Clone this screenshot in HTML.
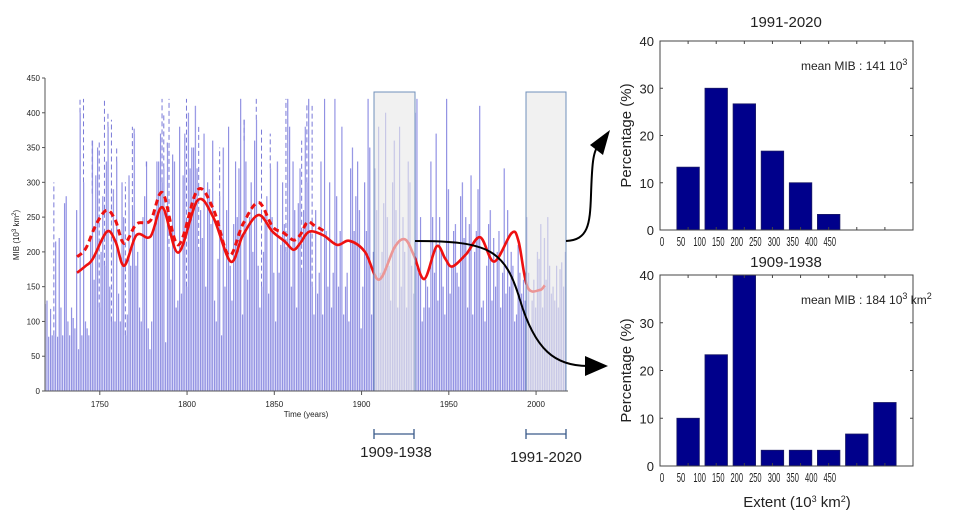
<!DOCTYPE html>
<html><head><meta charset="utf-8"><style>
html,body{margin:0;padding:0;background:#fff;}
svg{display:block;font-family:"Liberation Sans",Arial,sans-serif;}
</style></head><body>
<svg id="chart" width="959" height="528" viewBox="0 0 959 528" xmlns="http://www.w3.org/2000/svg">
<g id="left"></g>
<g id="right"></g>
</svg>
<script>
// ---------- data ----------
const startYear = 1719;
const mibValues = [
125,130,78,118,80,80,215,78,220,120,
80,270,280,100,80,120,105,90,260,60,
400,80,300,100,90,80,220,360,160,310,
350,120,200,280,180,330,380,150,100,290,
100,330,140,100,300,250,80,110,310,180,
260,370,180,200,120,100,250,280,330,90,
60,100,230,260,330,330,370,300,320,70,
350,200,160,340,330,120,130,380,140,310,
370,150,400,320,350,350,410,320,200,260,
220,370,150,300,290,240,360,130,100,190,
280,80,350,150,260,380,180,130,240,330,
250,320,420,110,390,330,160,250,300,200,
360,390,180,120,150,200,260,280,140,320,
250,170,100,330,170,210,300,240,200,420,
380,150,330,260,120,270,320,170,260,380,
300,420,230,150,110,260,140,170,330,110,
420,230,150,300,120,170,420,280,150,230,
380,110,150,170,100,320,350,230,280,330,
260,90,150,300,230,420,350,110,200,320,
260,380,170,200,270,400,250,180,130,300,
360,260,120,380,150,250,200,120,330,300,
180,140,400,420,170,250,100,120,160,150,
120,330,250,170,370,130,250,200,150,110,
420,290,140,180,230,240,170,150,280,300,
220,250,120,240,310,110,200,230,290,410,
120,130,100,180,240,260,130,220,150,200,
230,120,170,320,140,260,150,200,180,100,
110,210,170,140,160,130,250,170,90,130,
160,120,200,190,240,120,220,160,250,180,
140,150,130,180,120,175,185,150,200
];
const dashYears = [1724,1739,1741,1746,1750,1753,1755,1757,1760,1765,1769,1770,1777,1786,1787,1789,1790,1800,1805,1807,1819,1831,1833,1840,1843,1848,1857,1861,1866,1869,1872];
const dashTops  = [300,420,420,280,360,420,400,390,350,300,380,380,320,420,400,360,420,420,410,380,350,420,360,420,380,370,420,330,360,415,410];
const smoothYears = [1737,1742,1746,1754,1759,1764,1771,1779,1786,1795,1806,1815,1825,1832,1841,1849,1856,1861,1865,1870,1878,1886,1893,1902,1910,1919,1925,1930,1936,1943,1948,1952,1960,1968,1976,1986,1990,1995,2002,2005];
const smoothValues = [170,180,190,229,215,180,224,222,264,199,274,250,186,224,253,229,215,203,213,229,224,210,216,200,160,207,218,195,161,208,190,179,197,221,186,227,215,150,145,152];
const dashSmoothYears = [1737,1742,1748,1754,1759,1764,1771,1779,1786,1795,1806,1815,1824,1832,1841,1849,1855,1861,1865,1869,1873,1880];
const dashSmoothValues = [193,205,240,260,245,212,240,245,285,210,289,262,195,240,271,236,228,217,225,243,238,228];
const histBins = [50,100,150,200,250,300,350,400,450];
const hist1991 = [13.3,30,26.7,16.7,10,3.3,0,0];
const hist1909 = [10,23.3,40,3.3,3.3,3.3,6.7,13.3];
const yTicksLeft = [0,50,100,150,200,250,300,350,400,450];
const xTicksLeft = [1750,1800,1850,1900,1950,2000];
const yTicksHist = [0,10,20,30,40];
const xTickLabelsHist = ["0","50","100","150","200","250","300","350","400","450"];

// ---------- helpers ----------
const NS = "http://www.w3.org/2000/svg";
function mk(tag, attrs, parent, txt){
  const e = document.createElementNS(NS, tag);
  for (const k in attrs) e.setAttribute(k, attrs[k]);
  if (txt !== undefined) e.textContent = txt;
  parent.appendChild(e); return e;
}
const L = document.getElementById('left');
const R = document.getElementById('right');
const x0 = 45, x1 = 568, yBot = 391, yTop = 78;
const yr0 = 1718.6, yr1 = 2018.3;
const xs = y => x0 + (y - yr0) * (x1 - x0) / (yr1 - yr0);
const ys = v => yBot - v * (yBot - yTop) / 450;

// bars
const barsG = mk('g', {}, L);


mibValues.forEach((v, i) => {
  const yr = startYear + i;
  const bx = xs(yr - 0.5), w = xs(yr + 0.5) - bx;
  const r = mk('rect', {x: bx.toFixed(2), y: ys(v).toFixed(2), width: (w - 0.5).toFixed(2), height: (yBot - ys(v)).toFixed(2), fill: '#c6c6f7'}, barsG);
  
  
  const l = mk('line', {x1: (bx + 0.3).toFixed(2), x2: (bx + 0.3).toFixed(2), y1: yBot, y2: ys(v).toFixed(2), stroke: '#7a7ad8', 'stroke-width': 0.7}, barsG);
  
  
});
dashYears.forEach((yr, i) => {
  const v = mibValues[yr - startYear];
  const bx = xs(yr - 0.5) + 0.3;
  const d = mk('line', {x1: bx, x2: bx, y1: ys(v), y2: ys(dashTops[i]), stroke: '#7a7ad8', 'stroke-width': 1, 'stroke-dasharray': '5,3'}, barsG);
  
  
});

// smooth curves
function smoothPath(xsArr, ysArr){
  const p = xsArr.map((x, i) => [xs(x), ys(ysArr[i])]);
  let d = 'M' + p[0][0].toFixed(1) + ',' + p[0][1].toFixed(1);
  for (let i = 0; i < p.length - 1; i++){
    const a = p[Math.max(0, i - 1)], b = p[i], c = p[i + 1], e = p[Math.min(p.length - 1, i + 2)];
    const c1 = [b[0] + (c[0] - a[0]) / 6, b[1] + (c[1] - a[1]) / 6];
    const c2 = [c[0] - (e[0] - b[0]) / 6, c[1] - (e[1] - b[1]) / 6];
    d += 'C' + c1.map(n => n.toFixed(1)).join(',') + ' ' + c2.map(n => n.toFixed(1)).join(',') + ' ' + c[0].toFixed(1) + ',' + c[1].toFixed(1);
  }
  return d;
}
const dp = mk('path', {d: smoothPath(dashSmoothYears, dashSmoothValues), fill: 'none', stroke: '#ee1111', 'stroke-width': 3, 'stroke-dasharray': '6,4'}, L);


const sp = mk('path', {d: smoothPath(smoothYears, smoothValues), fill: 'none', stroke: '#ee1111', 'stroke-width': 2.6}, L);



// highlight boxes
[[374, 415, 'period-box-1909-1938'], [526, 566, 'period-box-1991-2020']].forEach(b => {
  const r = mk('rect', {x: b[0], y: 92, width: b[1] - b[0], height: yBot - 92, fill: 'rgba(232,232,232,0.62)', stroke: '#7090bb', 'stroke-width': 1}, L);
  
  
});

// axes
const ax = mk('path', {d: `M${x0},${yTop}V${yBot}H${x1}`, fill: 'none', stroke: '#555', 'stroke-width': 1}, L);


yTicksLeft.forEach(t => {
  mk('line', {x1: x0 - 3, x2: x0, y1: ys(t), y2: ys(t), stroke: '#555'}, L);
  const tx = mk('text', {x: x0 - 5, y: ys(t) + 3, 'font-size': 8, 'text-anchor': 'end', fill: '#222'}, L, t);
  
  
});
xTicksLeft.forEach(t => {
  mk('line', {x1: xs(t), x2: xs(t), y1: yBot, y2: yBot + 4, stroke: '#555'}, L);
  const tx = mk('text', {x: xs(t), y: yBot + 16, 'font-size': 8, 'text-anchor': 'middle', fill: '#222'}, L, t);
  
  
});
const xt = mk('text', {x: 306, y: 417, 'font-size': 8, 'text-anchor': 'middle', fill: '#222'}, L, 'Time (years)');


const yt = mk('text', {x: 0, y: 0, 'font-size': 8, 'text-anchor': 'middle', fill: '#222', transform: 'translate(19,235) rotate(-90)'}, L);


yt.innerHTML = 'MIB (10<tspan dy="-3" font-size="6">3</tspan><tspan dy="3"> km</tspan><tspan dy="-3" font-size="6">2</tspan><tspan dy="3">)</tspan>';

// brackets
[[374, 414, 396, 457, '1909-1938'], [526, 566, 546, 462, '1991-2020']].forEach(b => {
  const g = mk('g', {}, L);
  
  
  mk('path', {d: `M${b[0]},429V439M${b[0]},434H${b[1]}M${b[1]},429V439`, stroke: '#3a5a8a', 'stroke-width': 1.3, fill: 'none'}, g);
  mk('text', {x: b[2], y: b[3], 'font-size': 15, 'text-anchor': 'middle', fill: '#222'}, g, b[4]);
});

// arrows
const a1 = mk('path', {d: 'M415,241 C490,241 505,250 520,300 C535,350 555,366 588,366', fill: 'none', stroke: '#000', 'stroke-width': 2}, L);


mk('polygon', {points: '608,366 585,356 585,376', fill: '#000'}, L);
const a2 = mk('path', {d: 'M566,241 C588,240 590,225 591,195 C592,165 593,152 598,146', fill: 'none', stroke: '#000', 'stroke-width': 2}, L);


mk('polygon', {points: '610,130 590,145 603,155', fill: '#000'}, L);

// ---------- histograms ----------
const hx0 = 660, hx1 = 913;
const hxs = v => hx0 + v * (hx1 - hx0) / 450;
function hist(vals, top, bot, title, titleY, meanTxt, meanY, name){
  const g = mk('g', {}, R);
  
  
  const hys = v => bot - v * (bot - top) / 40;
  vals.forEach((v, i) => {
    if (v <= 0) return;
    const c = histBins[i];
    const r = mk('rect', {x: hxs(c - 20), y: hys(v), width: hxs(c + 20) - hxs(c - 20), height: bot - hys(v), fill: '#00008b', stroke: '#1a1a66', 'stroke-width': 0.8}, g);
    
    
  });
  const box = mk('rect', {x: hx0, y: top, width: hx1 - hx0, height: bot - top, fill: 'none', stroke: '#444', 'stroke-width': 1}, g);
  
  
  yTicksHist.forEach(t => {
    mk('line', {x1: hx0, x2: hx0 + 3, y1: hys(t), y2: hys(t), stroke: '#444'}, g);
    mk('line', {x1: hx1 - 3, x2: hx1, y1: hys(t), y2: hys(t), stroke: '#444'}, g);
    const tx = mk('text', {x: hx0 - 6, y: hys(t) + 5, 'font-size': 13, 'text-anchor': 'end', fill: '#222'}, g, t);
    
    
  });
  histBins.forEach(c => {
    mk('line', {x1: hxs(c), x2: hxs(c), y1: top, y2: top + 3, stroke: '#444'}, g);
    mk('line', {x1: hxs(c), x2: hxs(c), y1: bot - 3, y2: bot, stroke: '#444'}, g);
  });
  xTickLabelsHist.forEach((t, i) => {
    const cx = i === 0 ? 662 : 681 + (i - 1) * 18.6;
    const tl = t.length === 1 ? 4.5 : (t.length === 2 ? 8.5 : 12.5);
    const tx = mk('text', {x: (cx - tl / 2).toFixed(1), y: bot + 16, 'font-size': 13, textLength: tl, lengthAdjust: 'spacingAndGlyphs', fill: '#222'}, g, t);
    
    
  });
  const tt = mk('text', {x: 786, y: titleY, 'font-size': 15, 'text-anchor': 'middle', fill: '#222'}, g, title);
  
  
  const yl = mk('text', {x: 0, y: 0, 'font-size': 15, 'text-anchor': 'middle', fill: '#222', transform: `translate(631,${(top + bot) / 2}) rotate(-90)`}, g, 'Percentage (%)');
  
  
  const mt = mk('text', {x: 801, y: meanY, 'font-size': 12, fill: '#222'}, g);
  
  
  mt.innerHTML = meanTxt;
}
hist(hist1991, 41, 230, '1991-2020', 27, 'mean MIB : 141  10<tspan dy="-5" font-size="9">3</tspan>', 70, 'histogram-1991-2020');
hist(hist1909, 275, 466, '1909-1938', 267, 'mean MIB : 184  10<tspan dy="-5" font-size="9">3</tspan><tspan dy="5"> km</tspan><tspan dy="-5" font-size="9">2</tspan>', 304, 'histogram-1909-1938');
const ex = mk('text', {x: 797, y: 507, 'font-size': 15, 'text-anchor': 'middle', fill: '#222'}, R);


ex.innerHTML = 'Extent (10<tspan dy="-5" font-size="9">3</tspan><tspan dy="5"> km</tspan><tspan dy="-5" font-size="9">2</tspan><tspan dy="5">)</tspan>';
</script>
</body></html>
